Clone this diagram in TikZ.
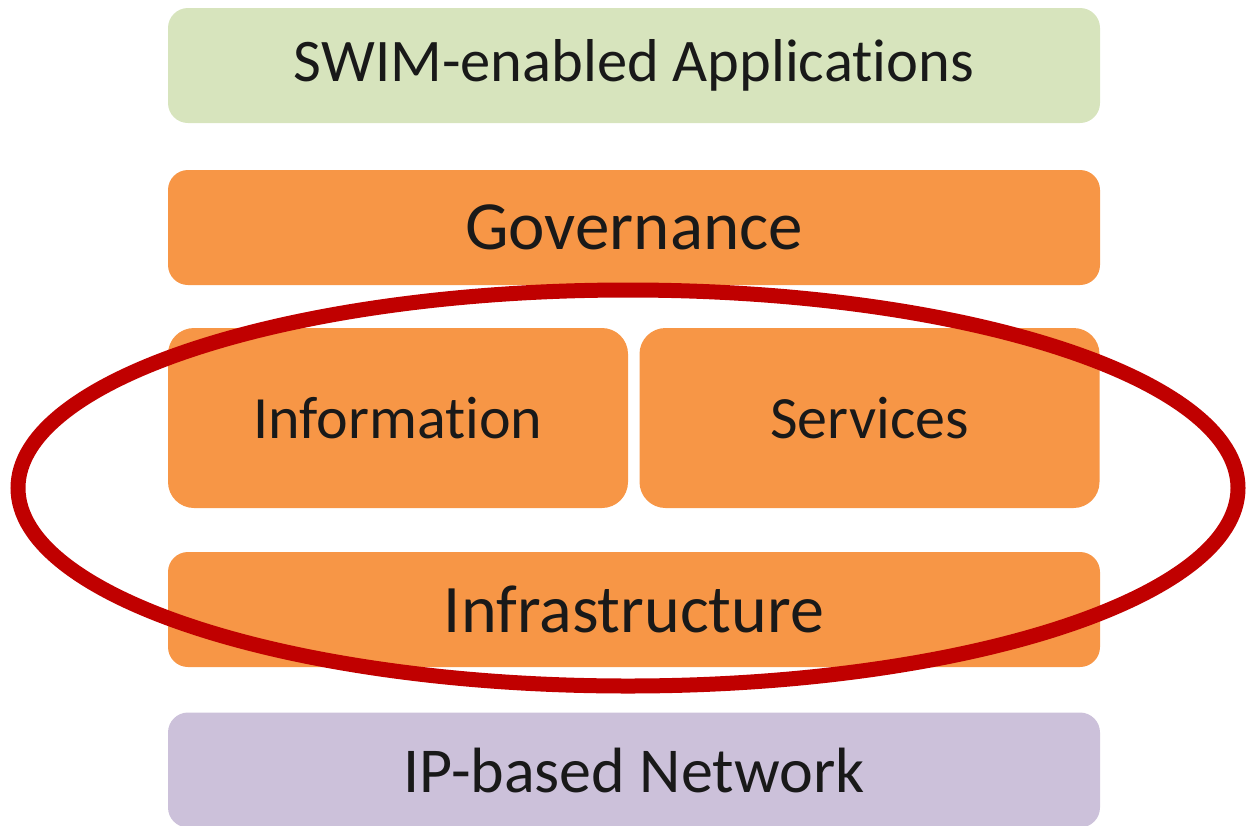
\documentclass[tikz,border=0pt]{standalone}
\usepackage{fontspec}
\setmainfont[RawFeature={-liga;-clig;-dlig;-calt;-hlig}]{Carlito}
\definecolor{appgreen}{HTML}{D7E4BD}
\definecolor{layerorange}{HTML}{F79646}
\definecolor{netpurple}{HTML}{CCC1DA}
\definecolor{ringred}{HTML}{C00000}
\begin{document}
\begin{tikzpicture}[x=1pt,y=-1pt,
  layer/.style={rounded corners=20pt, minimum width=932pt, minimum height=115pt, inner sep=0pt, text=black!90},
  half/.style={rounded corners=26pt, fill=layerorange, minimum width=460pt, minimum height=180pt, inner sep=0pt, text=black!90, font=\fontsize{60}{72}\selectfont}]
\useasboundingbox (0,0) rectangle (1246,825);
\begin{scope}
\clip (0,0) rectangle (1246,825);
\node[layer, fill=appgreen, font=\fontsize{60.5}{72}\selectfont] (app) at (634,65.5) {SWIM-enabled Applicat\kern0pt ions};
\node[layer, fill=layerorange, font=\fontsize{69}{80}\selectfont] (gov) at (634,227.5) {Governance};
\node[half] (info) at (398,418) {Informat\kern0pt ion};
\node[half] (serv) at (869.5,418) {Services};
\node[layer, fill=layerorange, font=\fontsize{68}{80}\selectfont] (infra) at (634,609.5) {Infrastructure};
\node[layer, fill=netpurple, font=\fontsize{64}{76}\selectfont] (net) at (634,770) {IP-based Network};
\draw[ringred, line width=15pt] (628,488) ellipse [x radius=610, y radius=198];
\end{scope}
\end{tikzpicture}
\end{document}
